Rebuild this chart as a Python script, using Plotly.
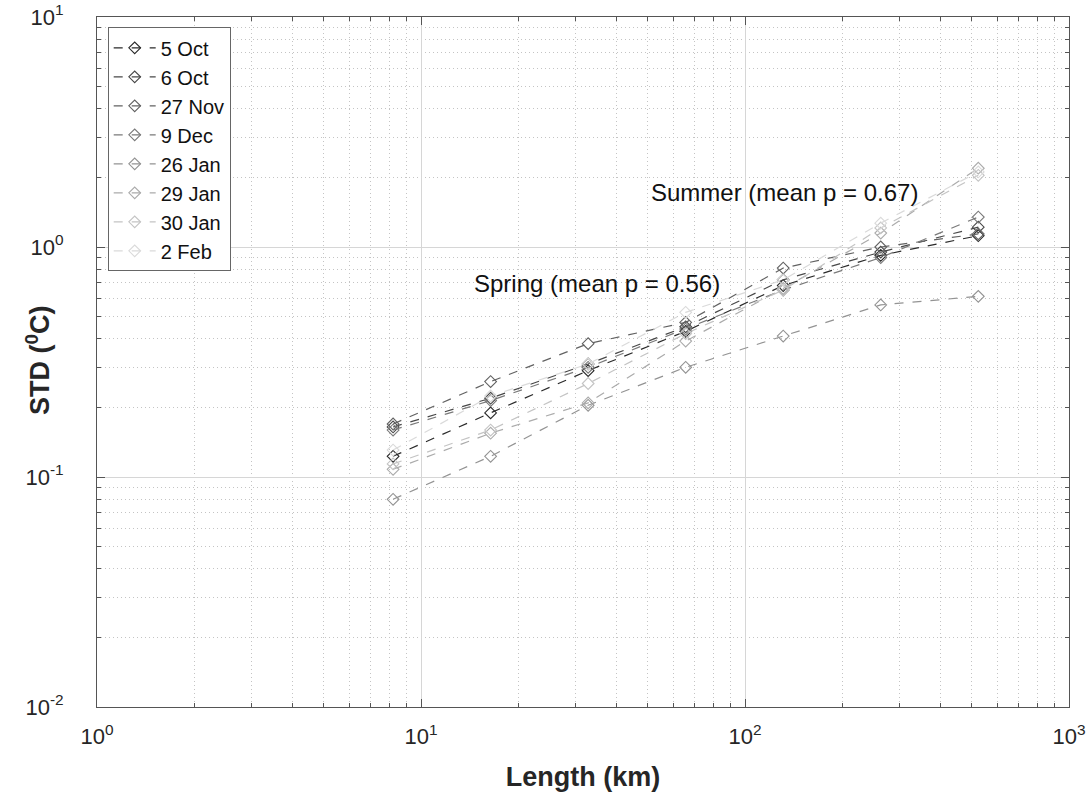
import plotly.graph_objects as go

lengths_km = [8.2, 16.4, 32.8, 65.6, 131.2, 262.4, 524.8]

series_names = ["5 Oct", "6 Oct", "27 Nov", "9 Dec", "26 Jan", "29 Jan", "30 Jan", "2 Feb"]

std_5oct = [0.123, 0.19, 0.29, 0.43, 0.68, 0.92, 1.12]
std_6oct = [0.165, 0.22, 0.31, 0.45, 0.72, 0.95, 1.22]
std_27nov = [0.17, 0.26, 0.38, 0.47, 0.81, 1.00, 1.14]
std_9dec = [0.16, 0.215, 0.30, 0.44, 0.65, 0.90, 1.35]
std_26jan = [0.08, 0.123, 0.205, 0.30, 0.41, 0.56, 0.61]
std_29jan = [0.108, 0.155, 0.21, 0.39, 0.66, 1.15, 2.20]
std_30jan = [0.114, 0.16, 0.255, 0.42, 0.65, 1.21, 2.05]
std_2feb = [0.131, 0.225, 0.31, 0.52, 0.72, 1.27, 2.12]

all_std = [std_5oct, std_6oct, std_27nov, std_9dec, std_26jan, std_29jan, std_30jan, std_2feb]
colors = ["#2a2a2a", "#484848", "#626262", "#7a7a7a", "#939393", "#ababab", "#c4c4c4", "#dadada"]

x_ticks = [1, 10, 100, 1000]
x_ticktext = ["10<sup>0</sup>", "10<sup>1</sup>", "10<sup>2</sup>", "10<sup>3</sup>"]
y_ticks = [0.01, 0.1, 1, 10]
y_ticktext = ["10<sup>-2</sup>", "10<sup>-1</sup>", "10<sup>0</sup>", "10<sup>1</sup>"]

x_minor = [m * 10 ** e for e in range(0, 3) for m in range(2, 10)]
y_minor = [m * 10 ** e for e in range(-2, 1) for m in range(2, 10)]

fig = go.Figure()
for name, vals, col in zip(series_names, all_std, colors):
    fig.add_trace(go.Scatter(
        x=lengths_km, y=vals, name=name, mode="lines+markers",
        line=dict(color=col, width=1.2, dash="dash"),
        marker=dict(symbol="diamond-open", size=9, color=col, line=dict(width=1.1, color=col)),
    ))

font_main = "Liberation Sans, Arial, Helvetica, sans-serif"

axis_common = dict(
    type="log", showline=True, linecolor="#555555", linewidth=1, mirror="allticks",
    ticks="inside", ticklen=8, tickcolor="#555555", tickwidth=1, automargin=False,
    showgrid=True, gridcolor="#d6d6d6", gridwidth=1, zeroline=False,
    ticklabeloverflow="allow",
    tickfont=dict(family=font_main, size=22, color="#262626"),
)

minor_common = dict(tickmode="array", ticks="inside", ticklen=4, tickcolor="#555555",
                    showgrid=True, gridcolor="#c4c4c4", griddash="1px,3px", gridwidth=1)

fig.update_xaxes(
    **axis_common, range=[0, 3], tickmode="array", tickvals=x_ticks, ticktext=x_ticktext,
    ticklabelstandoff=10,
    minor=dict(tickvals=x_minor, **minor_common),
    title=dict(text="<b>Length (km)</b>", font=dict(family=font_main, size=27, color="#262626"), standoff=18),
)
fig.update_yaxes(
    **axis_common, range=[-2, 1], tickmode="array", tickvals=y_ticks, ticktext=y_ticktext,
    ticklabelstandoff=28,
    minor=dict(tickvals=y_minor, **minor_common),
)

fig.add_annotation(x=-0.0607, y=0.503, xref="paper", yref="paper", xanchor="center", yanchor="middle",
                   text="<b>STD (<sup>0</sup>C)</b>", textangle=-90, showarrow=False,
                   font=dict(family=font_main, size=27, color="#262626"))
fig.add_annotation(x=0.707, y=0.745, xref="paper", yref="paper", xanchor="center", yanchor="middle",
                   text="Summer (mean p = 0.67)", showarrow=False,
                   font=dict(family=font_main, size=24, color="#111111"))
fig.add_annotation(x=0.514, y=0.614, xref="paper", yref="paper", xanchor="center", yanchor="middle",
                   text="Spring (mean p = 0.56)", showarrow=False,
                   font=dict(family=font_main, size=24, color="#111111"))

fig.update_layout(
    width=1086, height=792,
    margin=dict(l=97, r=17, t=17, b=85),
    paper_bgcolor="white", plot_bgcolor="white",
    showlegend=True,
    legend=dict(x=0.011, y=0.985, xanchor="left", yanchor="top",
                bgcolor="white", bordercolor="#666666", borderwidth=1,
                font=dict(family=font_main, size=20, color="#111111"),
                itemwidth=42),
)

fig.write_html("out.html", config={"displayModeBar": False},
               post_script="document.body.style.margin='0';document.body.style.overflow='hidden';")
